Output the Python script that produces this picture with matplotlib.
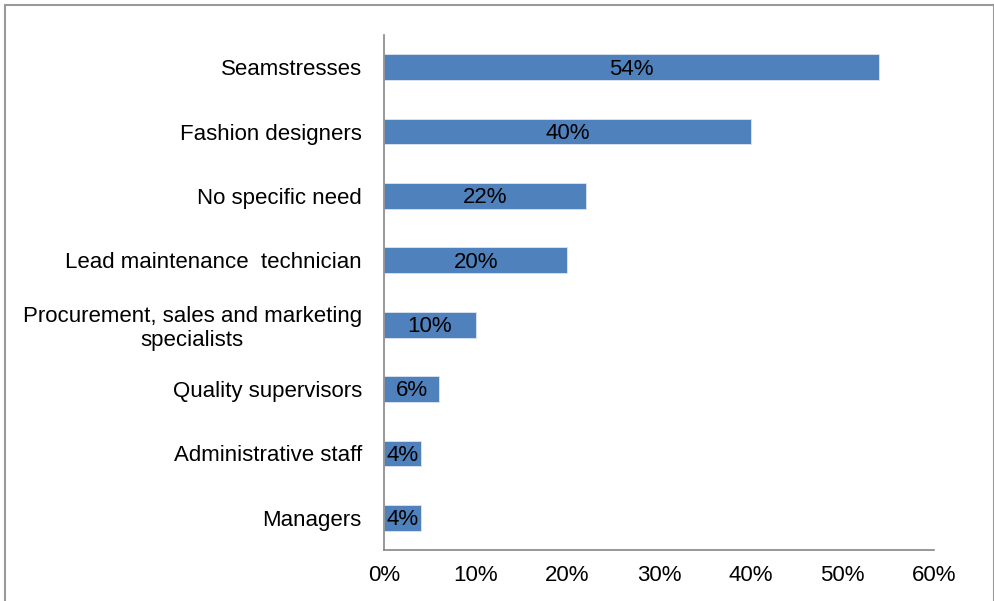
import matplotlib
matplotlib.use("Agg")
import matplotlib.pyplot as plt
from matplotlib.patches import Rectangle
from matplotlib.ticker import FuncFormatter

plt.rcParams['font.family'] = ['Liberation Sans', 'DejaVu Sans']

roles = ["Seamstresses",
         "Fashion designers",
         "No specific need",
         "Lead maintenance  technician",
         "Procurement, sales and marketing\nspecialists",
         "Quality supervisors",
         "Administrative staff",
         "Managers"]
shares = [54, 40, 22, 20, 10, 6, 4, 4]
xticks = [0, 10, 20, 30, 40, 50, 60]

bar_color = "#4F81BD"
axis_color = "#868686"
fs = 16

fig = plt.figure(figsize=(9.95, 6.01), dpi=100)
ax = fig.add_axes([0.386, 0.0849, 0.5528, 0.8569])

pos = list(range(len(roles)))
bars = ax.barh(pos, shares, height=0.4, color=bar_color,
               edgecolor="#DCE6F2", linewidth=0.6)

for b, v in zip(bars, shares):
    ax.text(b.get_x() + b.get_width() / 2, b.get_y() + b.get_height() / 2 + 0.03,
            "%d%%" % v, ha="center", va="center", fontsize=fs, color="black")

ax.set_yticks(pos)
ax.set_yticklabels(roles, fontsize=fs, multialignment="center")
ax.set_ylim(len(roles) - 0.5, -0.5)

ax.set_xlim(0, 60)
ax.set_xticks(xticks)
ax.xaxis.set_major_formatter(FuncFormatter(lambda x, _: "%d%%" % x))
for lbl in ax.get_xticklabels():
    lbl.set_fontsize(fs)

ax.tick_params(axis="y", length=0, pad=16)
ax.tick_params(axis="x", length=0, pad=11)

for side in ("top", "right"):
    ax.spines[side].set_visible(False)
for side in ("left", "bottom"):
    ax.spines[side].set_color(axis_color)
    ax.spines[side].set_linewidth(1.2)

# outer chart frame, open at the bottom edge
frame = Rectangle((5 / 995, -0.05), 989 / 995, 1.05 - 5 / 601,
                  transform=fig.transFigure, fill=False,
                  edgecolor="#9A9A9A", linewidth=1.5, clip_on=False)
fig.patches.append(frame)

fig.savefig("out.png", dpi=100)
